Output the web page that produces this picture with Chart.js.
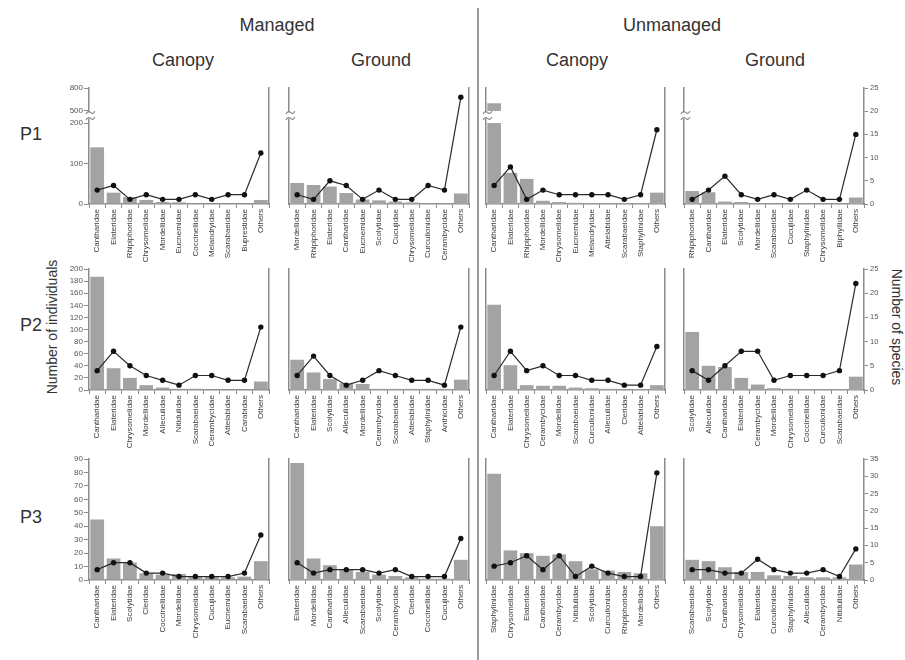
<!DOCTYPE html>
<html>
<head>
<meta charset="utf-8">
<script src="https://cdn.jsdelivr.net/npm/chart.js@4/dist/chart.umd.min.js"></script>
<style>
  html, body { margin: 0; padding: 0; background: #fff; }
  body { position: relative; width: 905px; height: 660px; overflow: hidden;
         font-family: "Liberation Sans", Arial, sans-serif; color: #333; }
  canvas { position: absolute; }
  .lbl { position: absolute; white-space: nowrap; transform: translate(-50%, -50%); line-height: 1; }
  .sep { position: absolute; left: 477px; top: 8px; width: 2px; height: 652px; background: #9a9a9a; }
</style>
</head>
<body>
<div class="sep"></div>
<div class="lbl" style="left:277px;top:25px;font-size:18px">Managed</div>
<div class="lbl" style="left:672px;top:25px;font-size:18px">Unmanaged</div>
<div class="lbl" style="left:183px;top:60px;font-size:18px">Canopy</div>
<div class="lbl" style="left:381px;top:60px;font-size:18px">Ground</div>
<div class="lbl" style="left:577px;top:60px;font-size:18px">Canopy</div>
<div class="lbl" style="left:775px;top:60px;font-size:18px">Ground</div>
<div class="lbl" style="left:31px;top:134px;font-size:18px">P1</div>
<div class="lbl" style="left:31px;top:325px;font-size:18px">P2</div>
<div class="lbl" style="left:31px;top:517px;font-size:18px">P3</div>
<div class="lbl" style="left:52px;top:327px;font-size:14px;transform:translate(-50%,-50%) rotate(-90deg)">Number of individuals</div>
<div class="lbl" style="left:897px;top:327px;font-size:14px;transform:translate(-50%,-50%) rotate(90deg)">Number of species</div>

<script>
// ---------- Tick values per row ----------
const individualTicksP1 = [0, 100, 200, 500, 800];
const individualTicksP2 = [0, 20, 40, 60, 80, 100, 120, 140, 160, 180, 200];
const individualTicksP3 = [0, 10, 20, 30, 40, 50, 60, 70, 80, 90];
const speciesTicksP1 = [0, 5, 10, 15, 20, 25];
const speciesTicksP2 = [0, 5, 10, 15, 20, 25];
const speciesTicksP3 = [0, 5, 10, 15, 20, 25, 30, 35];

// ---------- P1 ----------
const p1ManagedCanopyFamilies = ['Cantharidae','Elateridae','Rhipiphoridae','Chrysomelidae','Mordellidae','Eucnemidae','Coccinellidae','Melandryidae','Scarabaeidae','Buprestidae','Others'];
const p1ManagedCanopyIndividuals = [140, 28, 17, 10, 5, 4, 2, 1, 1, 1, 10];
const p1ManagedCanopySpecies = [3, 4, 1, 2, 1, 1, 2, 1, 2, 2, 11];

const p1ManagedGroundFamilies = ['Mordellidae','Rhipiphoridae','Elateridae','Cantharidae','Eucnemidae','Scolytidae','Cucujidae','Chrysomelidae','Curculionidae','Cerambycidae','Others'];
const p1ManagedGroundIndividuals = [52, 47, 43, 27, 11, 9, 6, 4, 1, 1, 26];
const p1ManagedGroundSpecies = [2, 1, 5, 4, 1, 3, 1, 1, 4, 3, 23];

const p1UnmanagedCanopyFamilies = ['Cantharidae','Elateridae','Rhipiphoridae','Mordellidae','Chrysomelidae','Eucnemidae','Melandryidae','Attelabidae','Scarabaeidae','Staphylinidae','Others'];
const p1UnmanagedCanopyIndividuals = [600, 77, 62, 8, 5, 3, 2, 2, 2, 2, 28];
const p1UnmanagedCanopySpecies = [4, 8, 1, 3, 2, 2, 2, 2, 1, 2, 16];

const p1UnmanagedGroundFamilies = ['Rhipiphoridae','Cantharidae','Elateridae','Scolytidae','Mordellidae','Scarabaeidae','Cucujidae','Staphylinidae','Chrysomelidae','Biphyllidae','Others'];
const p1UnmanagedGroundIndividuals = [32, 29, 6, 5, 2, 1, 1, 1, 1, 1, 16];
const p1UnmanagedGroundSpecies = [1, 3, 6, 2, 1, 2, 1, 3, 1, 1, 15];

// ---------- P2 ----------
const p2ManagedCanopyFamilies = ['Cantharidae','Elateridae','Chrysomelidae','Mordellidae','Alleculidae','Nitidulidae','Scarabaeidae','Cerambycidae','Attelabidae','Carabidae','Others'];
const p2ManagedCanopyIndividuals = [187, 36, 20, 8, 4, 2, 2, 1, 1, 1, 14];
const p2ManagedCanopySpecies = [4, 8, 5, 3, 2, 1, 3, 3, 2, 2, 13];

const p2ManagedGroundFamilies = ['Cantharidae','Elateridae','Scolytidae','Alleculidae','Mordellidae','Cerambycidae','Scarabaeidae','Attelabidae','Staphylinidae','Anthicidae','Others'];
const p2ManagedGroundIndividuals = [50, 29, 18, 11, 10, 2, 2, 2, 2, 2, 17];
const p2ManagedGroundSpecies = [3, 7, 3, 1, 2, 4, 3, 2, 2, 1, 13];

const p2UnmanagedCanopyFamilies = ['Cantharidae','Elateridae','Chrysomelidae','Cerambycidae','Mordellidae','Scarabaeidae','Curculionidae','Alleculidae','Cleridae','Attelabidae','Others'];
const p2UnmanagedCanopyIndividuals = [141, 41, 8, 7, 7, 4, 3, 2, 1, 1, 8];
const p2UnmanagedCanopySpecies = [3, 8, 4, 5, 3, 3, 2, 2, 1, 1, 9];

const p2UnmanagedGroundFamilies = ['Scolytidae','Alleculidae','Cantharidae','Elateridae','Cerambycidae','Mordellidae','Chrysomelidae','Coccinellidae','Curculionidae','Scarabaeidae','Others'];
const p2UnmanagedGroundIndividuals = [96, 40, 38, 20, 9, 3, 2, 1, 1, 1, 22];
const p2UnmanagedGroundSpecies = [4, 2, 5, 8, 8, 2, 3, 3, 3, 4, 22];

// ---------- P3 ----------
const p3ManagedCanopyFamilies = ['Cantharidae','Elateridae','Scolytidae','Cleridae','Coccinellidae','Mordellidae','Chrysomelidae','Cucujidae','Eucnemidae','Scarabaeidae','Others'];
const p3ManagedCanopyIndividuals = [45, 16, 13, 5, 4, 4.5, 2.5, 2.5, 2, 2.5, 14];
const p3ManagedCanopySpecies = [3, 5, 5, 2, 2, 1, 1, 1, 1, 2, 13];

const p3ManagedGroundFamilies = ['Elateridae','Mordellidae','Cantharidae','Alleculidae','Scarabaeidae','Scolytidae','Cerambycidae','Cleridae','Coccinellidae','Cucujidae','Others'];
const p3ManagedGroundIndividuals = [87, 16, 11, 8, 6, 4, 3, 2, 1, 1, 15];
const p3ManagedGroundSpecies = [5, 2, 3, 3, 3, 2, 3, 1, 1, 1, 12];

const p3UnmanagedCanopyFamilies = ['Staphylinidae','Chrysomelidae','Elateridae','Cantharidae','Cerambycidae','Nitidulidae','Scolytidae','Curculionidae','Rhipiphoridae','Mordellidae','Others'];
const p3UnmanagedCanopyIndividuals = [79, 22, 20, 18, 19, 14, 8, 7, 6, 5, 40];
const p3UnmanagedCanopySpecies = [4, 5, 7, 3, 7, 1, 4, 2, 1, 1, 31];

const p3UnmanagedGroundFamilies = ['Scarabaeidae','Scolytidae','Cantharidae','Chrysomelidae','Elateridae','Curculionidae','Staphylinidae','Alleculidae','Cerambycidae','Nitidulidae','Others'];
const p3UnmanagedGroundIndividuals = [15, 14, 9.5, 6, 6, 3.5, 3, 2, 2, 2, 11.5];
const p3UnmanagedGroundSpecies = [3, 3, 2, 2, 6, 3, 2, 2, 3, 1, 9];

// ---------- Styling / layout ----------
const AXIS_COLOR = '#8c8c8c';
const BAR_COLOR = '#a3a3a3';
const LINE_COLOR = '#2a2a2a';
const TICK_TEXT = '#555';
const LABEL_TEXT = '#3a3a3a';

const colLeft = [89, 289, 486, 684];
const colRight = [269, 469, 665, 864];
const rowTop = [88, 269, 459];
const rowBottom = [204, 390, 580];

// Break in the P1 individuals axis (between 200 and 500)
const BREAK_LOW = 200, BREAK_HIGH = 500;
const LOW_FRAC = 0.698, HIGH_FRAC = 0.802;

Chart.defaults.font.family = '"Liberation Sans", Arial, sans-serif';

class BrokenLinearScale extends Chart.LinearScale {
  static id = 'brokenLinear';
  static defaults = {};
  _toDecimal(v) {
    const max = this.max;
    if (v <= BREAK_LOW) return v / BREAK_LOW * LOW_FRAC;
    if (v >= BREAK_HIGH) return HIGH_FRAC + (v - BREAK_HIGH) / (max - BREAK_HIGH) * (1 - HIGH_FRAC);
    return LOW_FRAC + (v - BREAK_LOW) / (BREAK_HIGH - BREAK_LOW) * (HIGH_FRAC - LOW_FRAC);
  }
  getPixelForValue(v) {
    if (v === null || v === undefined || isNaN(v)) return NaN;
    return this.getPixelForDecimal(this._toDecimal(v));
  }
  getValueForPixel(p) {
    const d = this.getDecimalForPixel(p);
    if (d <= LOW_FRAC) return d / LOW_FRAC * BREAK_LOW;
    if (d >= HIGH_FRAC) return BREAK_HIGH + (d - HIGH_FRAC) / (1 - HIGH_FRAC) * (this.max - BREAK_HIGH);
    return BREAK_LOW + (d - LOW_FRAC) / (HIGH_FRAC - LOW_FRAC) * (BREAK_HIGH - BREAK_LOW);
  }
}
Chart.register(BrokenLinearScale);

// Blanks the broken band on the bars and draws the break marks on the left axis
const axisBreakPlugin = {
  id: 'axisBreak',
  afterDatasetDraw(chart, args, opts) {
    if (!opts || !opts.enabled) return;
    if (chart.data.datasets[args.index].type !== 'bar') return;
    const y = chart.scales.y, ca = chart.chartArea, ctx = chart.ctx;
    const yTop = y.getPixelForValue(BREAK_HIGH), yBot = y.getPixelForValue(BREAK_LOW);
    ctx.save();
    ctx.fillStyle = '#fff';
    ctx.fillRect(ca.left + 1, yTop, ca.right - ca.left - 2, yBot - yTop);
    ctx.restore();
  },
  afterDraw(chart, args, opts) {
    if (!opts || !opts.enabled) return;
    const y = chart.scales.y, ca = chart.chartArea, ctx = chart.ctx;
    const x0 = ca.left;
    const y1 = y.getPixelForValue(BREAK_HIGH) + 1.5;
    const y2 = y1 + 6;
    ctx.save();
    ctx.fillStyle = '#fff';
    ctx.fillRect(x0 - 2, y1, 5, y2 - y1);
    ctx.strokeStyle = AXIS_COLOR;
    ctx.lineWidth = 1.2;
    [y1, y2].forEach(yy => {
      const w = 9, xs = x0 - 3;
      ctx.beginPath();
      ctx.moveTo(xs, yy + 1.5);
      ctx.quadraticCurveTo(xs + w * 0.25, yy - 2.5, xs + w * 0.5, yy);
      ctx.quadraticCurveTo(xs + w * 0.75, yy + 2.5, xs + w, yy - 1.5);
      ctx.stroke();
    });
    ctx.restore();
  }
};

const individualTicks = [individualTicksP1, individualTicksP2, individualTicksP3];
const speciesTicks = [speciesTicksP1, speciesTicksP2, speciesTicksP3];

function buildChart(canvas, W, H, r, c, families, individuals, species) {
  canvas.width = W; canvas.height = H;
  canvas.style.width = W + 'px'; canvas.style.height = H + 'px';
  const iTicks = individualTicks[r], sTicks = speciesTicks[r];
  return new Chart(canvas, {
    type: 'bar',
    data: {
      labels: families,
      datasets: [
        {
          type: 'line', label: 'Number of species', data: species, yAxisID: 'y2',
          borderColor: LINE_COLOR, borderWidth: 1.2, tension: 0,
          pointRadius: 2.7, pointBackgroundColor: '#111', pointBorderWidth: 0,
          order: 0
        },
        {
          type: 'bar', label: 'Number of individuals', data: individuals, yAxisID: 'y',
          backgroundColor: BAR_COLOR, borderWidth: 0,
          barPercentage: 0.84, categoryPercentage: 1, order: 1
        }
      ]
    },
    options: {
      responsive: false, animation: false, devicePixelRatio: 1,
      layout: { padding: { top: 10, left: 2, right: 2, bottom: 2 } },
      plugins: { legend: { display: false }, tooltip: { enabled: false }, axisBreak: { enabled: r === 0 } },
      scales: {
        x: {
          type: 'category', offset: true,
          grid: { display: true, drawOnChartArea: false, drawTicks: true, tickLength: 4, color: AXIS_COLOR, lineWidth: 1, offset: true },
          border: { display: true, color: AXIS_COLOR, width: 1.5 },
          ticks: { autoSkip: false, minRotation: 90, maxRotation: 90, padding: 1, color: LABEL_TEXT, font: { size: 8 } },
          afterFit: s => { s.height = 62; }
        },
        y: {
          type: r === 0 ? 'brokenLinear' : 'linear', position: 'left',
          min: 0, max: iTicks[iTicks.length - 1],
          afterBuildTicks: s => { s.ticks = iTicks.map(v => ({ value: v })); },
          grid: { display: c === 0, drawOnChartArea: false, drawTicks: true, tickLength: 5, color: AXIS_COLOR },
          border: { display: true, color: AXIS_COLOR, width: 1.5 },
          ticks: { display: c === 0, autoSkip: false, padding: 1, color: TICK_TEXT, font: { size: 8 }, callback: v => String(v) },
          afterFit: s => { s.width = 40; }
        },
        y2: {
          type: 'linear', position: 'right',
          min: 0, max: sTicks[sTicks.length - 1],
          afterBuildTicks: s => { s.ticks = sTicks.map(v => ({ value: v })); },
          grid: { display: c === 3, drawOnChartArea: false, drawTicks: true, tickLength: 4, color: AXIS_COLOR },
          border: { display: true, color: AXIS_COLOR, width: 1.5 },
          ticks: { display: c === 3, autoSkip: false, padding: 2, color: TICK_TEXT, font: { size: 7.5 }, callback: v => String(v) },
          afterFit: s => { s.width = 30; }
        }
      }
    },
    plugins: [axisBreakPlugin]
  });
}

function makePanel(r, c, families, individuals, species) {
  const targetW = colRight[c] - colLeft[c];
  const targetH = rowBottom[r] - rowTop[r];
  const canvas = document.createElement('canvas');
  document.body.appendChild(canvas);
  let W = targetW + 74, H = targetH + 74;
  let chart = buildChart(canvas, W, H, r, c, families, individuals, species);
  let ca = chart.chartArea;
  const dw = Math.round(targetW - (ca.right - ca.left));
  const dh = Math.round(targetH - (ca.bottom - ca.top));
  if (dw !== 0 || dh !== 0) {
    chart.destroy();
    W += dw; H += dh;
    chart = buildChart(canvas, W, H, r, c, families, individuals, species);
    ca = chart.chartArea;
  }
  canvas.style.left = (colLeft[c] - ca.left) + 'px';
  canvas.style.top = (rowTop[r] - ca.top) + 'px';
}

makePanel(0, 0, p1ManagedCanopyFamilies, p1ManagedCanopyIndividuals, p1ManagedCanopySpecies);
makePanel(0, 1, p1ManagedGroundFamilies, p1ManagedGroundIndividuals, p1ManagedGroundSpecies);
makePanel(0, 2, p1UnmanagedCanopyFamilies, p1UnmanagedCanopyIndividuals, p1UnmanagedCanopySpecies);
makePanel(0, 3, p1UnmanagedGroundFamilies, p1UnmanagedGroundIndividuals, p1UnmanagedGroundSpecies);
makePanel(1, 0, p2ManagedCanopyFamilies, p2ManagedCanopyIndividuals, p2ManagedCanopySpecies);
makePanel(1, 1, p2ManagedGroundFamilies, p2ManagedGroundIndividuals, p2ManagedGroundSpecies);
makePanel(1, 2, p2UnmanagedCanopyFamilies, p2UnmanagedCanopyIndividuals, p2UnmanagedCanopySpecies);
makePanel(1, 3, p2UnmanagedGroundFamilies, p2UnmanagedGroundIndividuals, p2UnmanagedGroundSpecies);
makePanel(2, 0, p3ManagedCanopyFamilies, p3ManagedCanopyIndividuals, p3ManagedCanopySpecies);
makePanel(2, 1, p3ManagedGroundFamilies, p3ManagedGroundIndividuals, p3ManagedGroundSpecies);
makePanel(2, 2, p3UnmanagedCanopyFamilies, p3UnmanagedCanopyIndividuals, p3UnmanagedCanopySpecies);
makePanel(2, 3, p3UnmanagedGroundFamilies, p3UnmanagedGroundIndividuals, p3UnmanagedGroundSpecies);
</script>
</body>
</html>
